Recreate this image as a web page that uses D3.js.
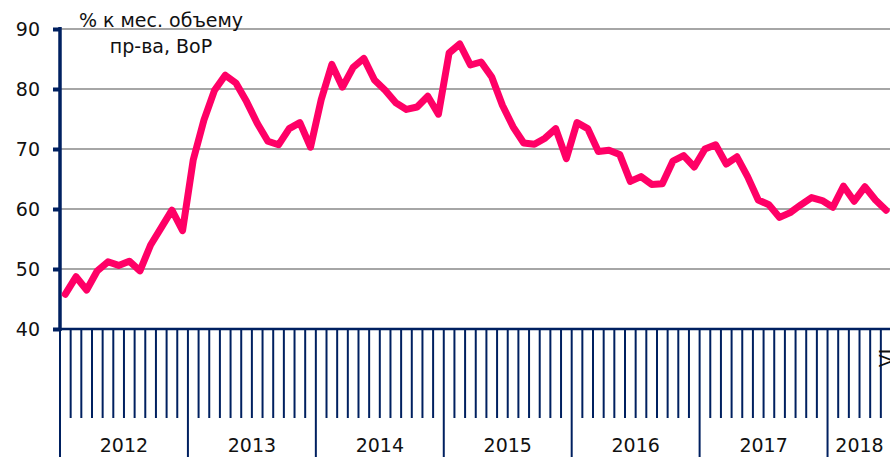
<!DOCTYPE html>
<html>
<head>
<meta charset="utf-8">
<script src="https://cdn.jsdelivr.net/npm/d3@7"></script>
<style>
  html, body { margin: 0; padding: 0; background: #fff; overflow: hidden; }
  svg { display: block; font-family: "DejaVu Sans", sans-serif; }
</style>
</head>
<body>
<svg id="chart" width="890" height="457"></svg>
<script>
// data: monthly share, Jan 2012 .. Jun 2018
const years = ['2012', '2013', '2014', '2015', '2016', '2017', '2018'];
const monthsInYear = [12, 12, 12, 12, 12, 12, 6];
const values = [
  45.8, 48.7, 46.5, 49.7, 51.2, 50.6, 51.3, 49.7, 54.0, 56.9, 59.8, 56.4,
  68.2, 74.8, 79.8, 82.3, 81.0, 77.9, 74.3, 71.3, 70.7, 73.4, 74.4, 70.3,
  78.2, 84.1, 80.3, 83.6, 85.1, 81.5, 79.8, 77.7, 76.6, 77.0, 78.8, 75.8,
  86.0, 87.5, 84.0, 84.5, 82.0, 77.3, 73.7, 71.0, 70.8, 71.8, 73.4, 68.4,
  74.4, 73.4, 69.6, 69.8, 69.1, 64.6, 65.4, 64.1, 64.2, 68.0, 68.9, 67.0,
  70.0, 70.7, 67.5, 68.7, 65.4, 61.5, 60.7, 58.6, 59.4, 60.7, 61.9, 61.4,
  60.3, 63.8, 61.3, 63.7, 61.5, 59.8
];
const yTicks = [40, 50, 60, 70, 80, 90];
const titleLines = ['% к мес. объему', 'пр-ва, ВоР'];
const lastMonthLabel = 'VI';

const navy = '#002060';
const fontSize = '19px';
const svg = d3.select('#chart');

const n = values.length;
const x = d3.scaleLinear().domain([0, n]).range([60, 891.5]);
const y = d3.scaleLinear().domain([40, 90]).range([329, 29]);

// gridlines
svg.append('g')
  .selectAll('line')
  .data(yTicks.filter(d => d > 40))
  .join('line')
  .attr('x1', 60).attr('x2', 890)
  .attr('y1', d => y(d)).attr('y2', d => y(d))
  .attr('stroke', '#a6a6a6')
  .attr('stroke-width', 2);

// y axis
const yAxis = d3.axisLeft(y).tickValues(yTicks).tickSize(7).tickPadding(13);
const gy = svg.append('g').attr('transform', 'translate(60,0)').call(yAxis);
gy.select('.domain').remove();
gy.selectAll('.tick line').attr('stroke', navy).attr('stroke-width', 4);
gy.selectAll('.tick text')
  .attr('fill', '#111')
  .style('font-size', fontSize)
  .style('font-family', '"DejaVu Sans", sans-serif');
svg.append('line')
  .attr('x1', 60).attr('x2', 60)
  .attr('y1', y(90) - 2).attr('y2', y(40) + 2)
  .attr('stroke', navy).attr('stroke-width', 3.5);

// x axis: month ticks and year separators
const yearStarts = d3.cumsum([0].concat(monthsInYear)).slice(0, years.length);
const monthTicks = d3.range(0, n + 1).filter(i => !yearStarts.includes(i));
svg.append('g')
  .selectAll('line')
  .data(monthTicks)
  .join('line')
  .attr('x1', d => x(d)).attr('x2', d => x(d))
  .attr('y1', y(40)).attr('y2', 418)
  .attr('stroke', navy).attr('stroke-width', 2);
svg.append('g')
  .selectAll('line')
  .data(yearStarts)
  .join('line')
  .attr('x1', d => x(d)).attr('x2', d => x(d))
  .attr('y1', y(40)).attr('y2', 457)
  .attr('stroke', navy).attr('stroke-width', 2);
svg.append('line')
  .attr('x1', 60).attr('x2', 890)
  .attr('y1', y(40)).attr('y2', y(40))
  .attr('stroke', navy).attr('stroke-width', 2.5);

svg.append('g')
  .selectAll('text')
  .data(years)
  .join('text')
  .attr('x', (d, i) => x(yearStarts[i] + monthsInYear[i] / 2))
  .attr('y', 452)
  .attr('text-anchor', 'middle')
  .attr('fill', '#111')
  .style('font-size', fontSize)
  .text(d => d);

// month label at the right edge, cut by the frame as in the original
svg.append('text')
  .attr('transform', `translate(${x(n - 0.5) + 7},358) rotate(-90)`)
  .attr('text-anchor', 'middle')
  .attr('fill', '#111')
  .style('font-size', fontSize)
  .text(lastMonthLabel);

// series line
const line = d3.line()
  .x((d, i) => x(i + 0.5))
  .y(d => y(d));
svg.append('path')
  .datum(values)
  .attr('d', line)
  .attr('fill', 'none')
  .attr('stroke', '#ff0066')
  .attr('stroke-width', 7)
  .attr('stroke-linejoin', 'round')
  .attr('stroke-linecap', 'round');

// title
svg.append('g')
  .selectAll('text')
  .data(titleLines)
  .join('text')
  .attr('x', 161)
  .attr('y', (d, i) => 27 + i * 26)
  .attr('text-anchor', 'middle')
  .attr('fill', '#111')
  .style('font-size', fontSize)
  .text(d => d);
</script>
</body>
</html>
